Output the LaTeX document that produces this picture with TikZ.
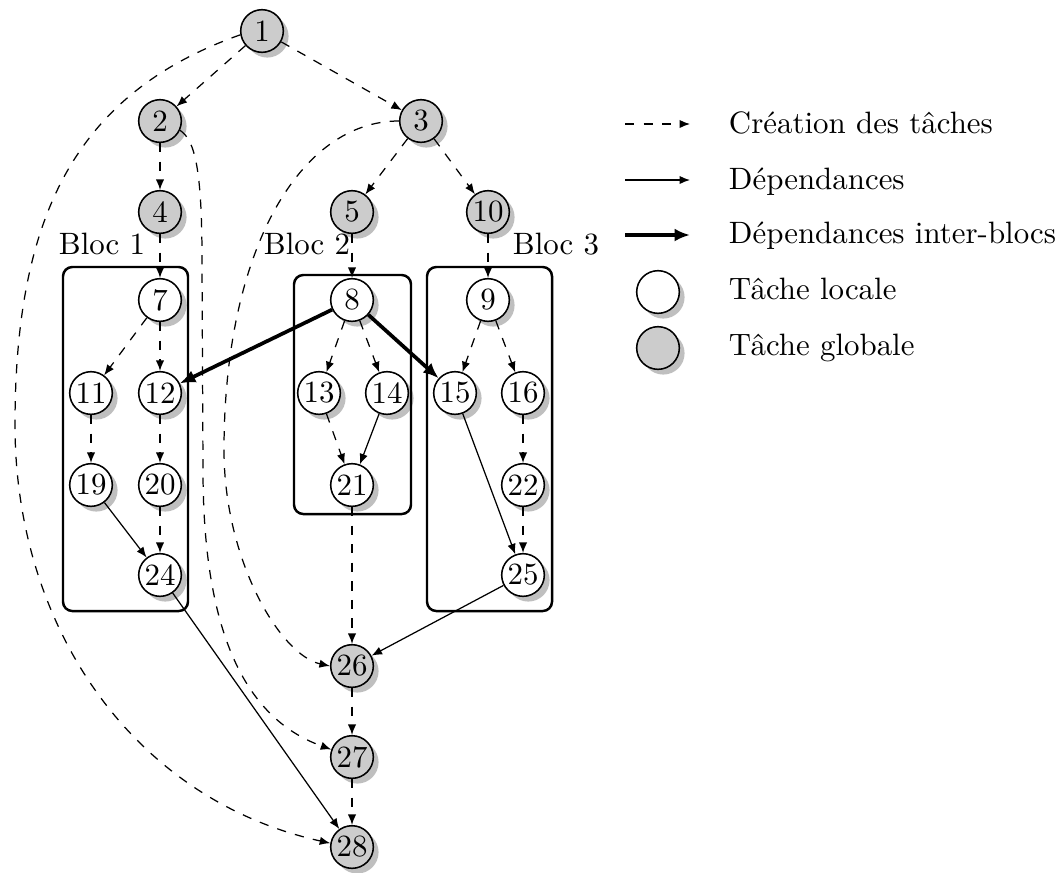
\documentclass[tikz,border=0pt]{standalone}
\usetikzlibrary{shadows,arrows.meta}
\begin{document}
\begin{tikzpicture}[x=0.3236pt,y=-0.3236pt,
  task/.style={circle,draw,line width=0.5pt,minimum size=13.8pt,inner sep=0pt,fill=white,
    drop shadow={shadow xshift=1.7pt,shadow yshift=-1.7pt,fill=black,opacity=0.25}},
  glob/.style={task,fill=black!20},
  crea/.style={dashed,-{Latex[length=3.4pt,width=2.7pt]}},
  dep/.style={-{Latex[length=3.4pt,width=2.7pt]}},
  inter/.style={line width=1.2pt,-{Latex[length=5pt,width=4.2pt]}},
  bloc/.style={draw,line width=0.8pt,rounded corners=3pt}]
\useasboundingbox (0,0) rectangle (1059,872);

% blocks
\draw[bloc] (63,267) rectangle (188,611);
\draw[bloc] (294,275) rectangle (411,514);
\draw[bloc] (427,267) rectangle (552,611);
\node (b1) at (102,244) {Bloc 1};
\node (b2) at (307,244) {Bloc 2};
\node (b3) at (556,244) {Bloc 3};

% global tasks
\node[glob] (n1) at (262,31) {1};
\node[glob] (n2) at (160,121) {2};
\node[glob] (n3) at (421,121) {3};
\node[glob] (n4) at (160,212) {4};
\node[glob] (n5) at (352,212) {5};
\node[glob] (n10) at (488,212) {10};
\node[glob] (n26) at (352,666) {26};
\node[glob] (n27) at (352,757) {27};
\node[glob] (n28) at (352,847) {28};
% local tasks
\node[task] (n7) at (160,300) {7};
\node[task] (n8) at (352,300) {8};
\node[task] (n9) at (488,300) {9};
\node[task] (n11) at (91,393) {11};
\node[task] (n12) at (160,393) {12};
\node[task] (n13) at (319,393) {13};
\node[task] (n14) at (387,393) {14};
\node[task] (n15) at (455,393) {15};
\node[task] (n16) at (523,393) {16};
\node[task] (n19) at (91,485) {19};
\node[task] (n20) at (160,485) {20};
\node[task] (n21) at (352,485) {21};
\node[task] (n22) at (523,485) {22};
\node[task] (n24) at (160,575) {24};
\node[task] (n25) at (523,575) {25};

% creation edges
\draw[crea] (n1) -- (n2);
\draw[crea] (n1) -- (n3);
\draw[crea] (n2) -- (n4);
\draw[crea] (n3) -- (n5);
\draw[crea] (n3) -- (n10);
\draw[crea] (n4) -- (n7);
\draw[crea] (n5) -- (n8);
\draw[crea] (n10) -- (n9);
\draw[crea] (n7) -- (n11);
\draw[crea] (n7) -- (n12);
\draw[crea] (n8) -- (n13);
\draw[crea] (n8) -- (n14);
\draw[crea] (n9) -- (n15);
\draw[crea] (n9) -- (n16);
\draw[crea] (n11) -- (n19);
\draw[crea] (n12) -- (n20);
\draw[crea] (n20) -- (n24);
\draw[crea] (n13) -- (n21);
\draw[crea] (n16) -- (n22);
\draw[crea] (n22) -- (n25);
\draw[crea] (n21) -- (n26);
\draw[crea] (n26) -- (n27);
\draw[crea] (n27) -- (n28);
\draw[crea] (n1.190) .. controls (73,94) and (15,220) .. (15,425)
  .. controls (15,625) and (131,799) .. (n28.170);
\draw[crea] (n2.-25) .. controls (195,140) and (202,170) .. (202,260)
  -- (203,470) .. controls (203,650) and (255,722) .. (n27.160);
\draw[crea] (n3.west) .. controls (300,121) and (224,250) .. (224,450)
  .. controls (224,560) and (280,655) .. (n26.west);

% dependencies
\draw[dep] (n19) -- (n24);
\draw[dep] (n14) -- (n21);
\draw[dep] (n15) -- (n25);
\draw[dep] (n25) -- (n26);
\draw[dep] (n24) -- (n28);
\draw[inter] (n8) -- (n12);
\draw[inter] (n8) -- (n15);

% legend
\coordinate (l1a) at (625,124); \coordinate (l1b) at (690,124);
\coordinate (l2a) at (625,180); \coordinate (l2b) at (690,180);
\coordinate (l3a) at (625,235); \coordinate (l3b) at (690,235);
\draw[crea] (l1a) -- (l1b);
\draw[dep] (l2a) -- (l2b);
\draw[inter] (l3a) -- (l3b);
\node[task] (lloc) at (658,292) {};
\node[glob] (lglob) at (658,348) {};
\node[anchor=base west] (t1) at (718,133) {Création des tâches};
\node[anchor=base west] (t2) at (718,189) {Dépendances};
\node[anchor=base west] (t3) at (718,243) {Dépendances inter-blocs};
\node[anchor=base west] (t4) at (718,299) {Tâche locale};
\node[anchor=base west] (t5) at (718,355) {Tâche globale};
\end{tikzpicture}
\end{document}
